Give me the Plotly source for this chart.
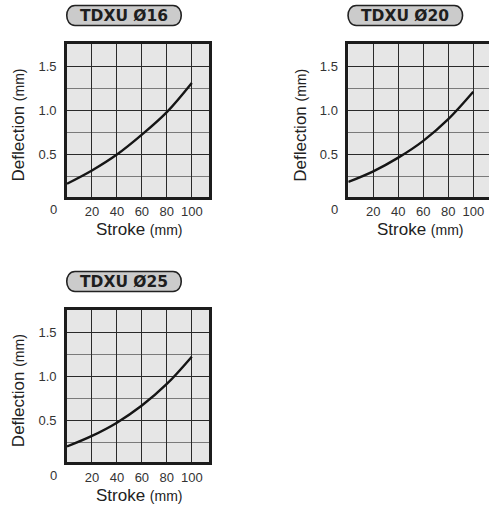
import plotly.graph_objects as go

W, H = 489, 505

stroke = [0, 20, 40, 60, 80, 100]
defl_16 = [0.17, 0.32, 0.50, 0.725, 0.98, 1.31]
defl_20 = [0.19, 0.31, 0.465, 0.655, 0.90, 1.21]
defl_25 = [0.20, 0.32, 0.47, 0.665, 0.91, 1.22]
titles = ["TDXU Ø16", "TDXU Ø20", "TDXU Ø25"]
x_ticks = [20, 40, 60, 80, 100]
y_ticks = [0.5, 1.0, 1.5]
y_minor = [0.25, 0.75, 1.25]

def px(x):
    return x / W

def py(y):
    return 1 - y / H

# panel boxes in pixels: (left, right, top, bottom, xmax)
panels = [
    (67, 209, 44, 197, 113.8),
    (348.3, 489, 44, 197, 112.6),
    (67, 209, 310, 462.3, 113.8),
]
series = [defl_16, defl_20, defl_25]

fig = go.Figure()
LINE = "#1c1c1c"
tickfont = dict(family="Liberation Sans, Arial, sans-serif", size=13, color="#333")
layout = dict(
    width=W, height=H, margin=dict(l=0, r=0, t=0, b=0),
    paper_bgcolor="white", plot_bgcolor="#e6e6e6", showlegend=False,
)
annotations = []
shapes = []

for i, ((l, r, t, b, xmax), ys, title) in enumerate(zip(panels, series, titles)):
    n = "" if i == 0 else str(i + 1)
    fig.add_trace(go.Scatter(
        x=stroke, y=ys, mode="lines", line=dict(color="#151515", width=2.4, shape="spline", smoothing=1.0),
        xaxis="x" + n, yaxis="y" + n, hoverinfo="skip"))
    last = (i == 1)
    layout["xaxis" + n] = dict(
        domain=[px(l), px(r)], range=[0, xmax], anchor="y" + n,
        tickvals=x_ticks, ticktext=[str(v) for v in x_ticks], ticks="",
        showgrid=True, gridcolor="#2a2a2a", gridwidth=1.2,
        showline=True, linecolor=LINE, linewidth=2.6, mirror=True,
        zeroline=False, tickfont=tickfont, ticklabelstandoff=1, fixedrange=True,
    )
    layout["yaxis" + n] = dict(
        domain=[py(b), py(t)], range=[0.02, 1.75], anchor="x" + n,
        tickvals=y_ticks, ticktext=["0.5", "1.0", "1.5"], ticks="",
        showgrid=True, gridcolor="#2a2a2a", gridwidth=1.2,
        minor=dict(tickvals=y_minor, showgrid=True, gridcolor="#7a7a7a", gridwidth=1.2),
        showline=True, linecolor=LINE, linewidth=2.6, mirror=(not last),
        zeroline=False, tickfont=tickfont, ticklabelstandoff=5, fixedrange=True,
    )
    # origin label
    annotations.append(dict(
        x=px(l - 14), y=py(b + 13), xref="paper", yref="paper", text="0",
        showarrow=False, font=tickfont, xanchor="center", yanchor="middle"))
    # y-axis title
    annotations.append(dict(
        x=px(l - 49 if i != 1 else l - 48), y=py((t + b) / 2 + 5), xref="paper", yref="paper",
        text="Deflection <span style='font-size:14px'>(mm)</span>", textangle=-90,
        showarrow=False, xanchor="center", yanchor="middle",
        font=dict(family="Liberation Sans, Arial, sans-serif", size=17, color="#222")))
    # x-axis title
    annotations.append(dict(
        x=px(l + 72), y=py(b + 33), xref="paper", yref="paper",
        text="Stroke <span style='font-size:14px'>(mm)</span>",
        showarrow=False, xanchor="center", yanchor="middle",
        font=dict(family="Liberation Sans, Arial, sans-serif", size=17, color="#222")))
    # title pill
    cx = l + 57
    cy = t - 28.5
    shapes.append(dict(
        type="path", xref="paper", yref="paper", xsizemode="pixel", ysizemode="pixel",
        xanchor=px(cx), yanchor=py(cy),
        path="M -49,10 L 49,10 C 60,10 60,-10 49,-10 L -49,-10 C -60,-10 -60,10 -49,10 Z",
        fillcolor="#cbcbcb", line=dict(color="#222", width=1.6), layer="below"))
    annotations.append(dict(
        x=px(cx), y=py(cy), xref="paper", yref="paper", text="<b>" + title + "</b>",
        showarrow=False, xanchor="center", yanchor="middle",
        font=dict(family="DejaVu Sans, Liberation Sans, sans-serif", size=15.5, color="#1e1e1e")))

layout["annotations"] = annotations
layout["shapes"] = shapes
fig.update_layout(**layout)
fig.write_html(
    "out.html", config={"displayModeBar": False},
    post_script="document.body.style.margin='0';document.body.style.overflow='hidden';",
)
